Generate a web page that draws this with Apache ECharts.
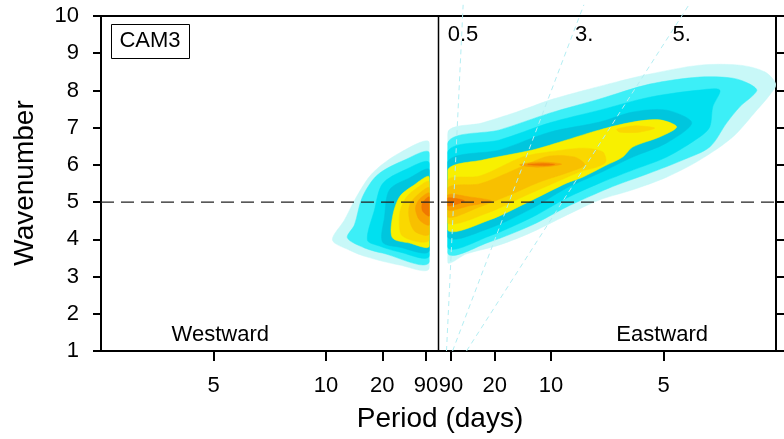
<!DOCTYPE html>
<html><head><meta charset="utf-8">
<script src="https://cdn.jsdelivr.net/npm/echarts@6/dist/echarts.min.js"></script>
<style>html,body{margin:0;padding:0;background:#fff}#c{width:784px;height:439px}</style>
</head><body><div id="c"></div>
<script>
// ---- axis definitions ----
const periodTicks = [5, 10, 20, 90];          // period (days) tick labels, westward and eastward
const freqMin = -0.3, freqMax = 0.3;           // frequency (cycles/day)
const waveMin = 1, waveMax = 10;               // zonal wavenumber
const refWavenumber = 5;                       // dashed reference line
const zeroFreqLine = [[0, 1], [0, 10]];
const gapHalfWidth = 0.008;                    // masked band around zero frequency

// ---- contour level colours (outer -> inner) ----
const levelColors = ['#c8f8f8', '#3ceff7', '#00e0f0', '#00c6de', '#f8f000', '#fad800', '#f8c000', '#f8a000', '#f07800'];

// ---- westward blob: [frequency, wavenumber] ----
const westL1 = [[-0.0080,6.59],[-0.0347,6.32],[-0.0587,5.78],[-0.0730,5.14],[-0.0836,4.52],[-0.0943,3.98],[-0.0792,3.71],[-0.0641,3.53],[-0.0347,3.31],[-0.0080,3.23]];
const westL2 = [[-0.0080,6.32],[-0.0302,6.13],[-0.0543,5.73],[-0.0676,5.14],[-0.0747,4.39],[-0.0810,4.04],[-0.0658,3.77],[-0.0498,3.63],[-0.0080,3.39]];
const westL3 = [[-0.0080,6.05],[-0.0302,5.86],[-0.0498,5.49],[-0.0569,4.79],[-0.0632,3.98],[-0.0525,3.82],[-0.0347,3.66],[-0.0080,3.55]];
const westL4 = [[-0.0080,5.86],[-0.0258,5.65],[-0.0436,5.33],[-0.0480,4.60],[-0.0498,3.93],[-0.0347,3.79],[-0.0080,3.69]];
const westL5 = [[-0.0080,5.67],[-0.0231,5.43],[-0.0347,5.14],[-0.0409,4.60],[-0.0409,4.04],[-0.0258,3.90],[-0.0080,3.82]];
const westL6 = [[-0.0080,5.54],[-0.0214,5.33],[-0.0302,5.06],[-0.0347,4.65],[-0.0320,4.09],[-0.0080,3.98]];
const westL7 = [[-0.0080,5.38],[-0.0187,5.19],[-0.0258,4.92],[-0.0258,4.52],[-0.0205,4.20],[-0.0080,4.14]];
const westL8 = [[-0.0080,5.24],[-0.0169,5.08],[-0.0205,4.84],[-0.0169,4.52],[-0.0080,4.39]];
const westL9 = [[-0.0080,5.14],[-0.0142,4.98],[-0.0142,4.76],[-0.0080,4.63]];

// ---- eastward blob ----
const eastL1 = [[0.0080,6.86],[0.0391,7.13],[0.0694,7.42],[0.0988,7.74],[0.1281,7.99],[0.1584,8.23],[0.1877,8.44],[0.2322,8.68],[0.2678,8.68],[0.2900,8.50],[0.2998,8.17],
  [0.2945,7.88],[0.2829,7.47],[0.2616,6.75],[0.2322,6.13],[0.2028,5.67],[0.1726,5.33],[0.1432,5.06],[0.1139,4.65],[0.0836,4.20],[0.0543,3.85],[0.0249,3.61],[0.0080,3.39]];
const eastL2 = [[0.0080,6.59],[0.0543,6.94],[0.0988,7.39],[0.1432,7.77],[0.1877,8.17],[0.2322,8.36],[0.2616,8.33],[0.2767,8.17],[0.2829,7.99],
  [0.2678,7.56],[0.2562,7.13],[0.2411,6.48],[0.2171,6.13],[0.1877,5.78],[0.1584,5.46],[0.1432,5.27],[0.1139,4.87],[0.0836,4.39],[0.0454,3.93],[0.0080,3.63]];
const eastL3 = [[0.0080,6.35],[0.0543,6.67],[0.0988,7.13],[0.1432,7.47],[0.1877,7.82],[0.2322,8.01],[0.2500,8.01],
  [0.2438,7.56],[0.2411,7.02],[0.2322,6.75],[0.2028,6.21],[0.1726,5.86],[0.1432,5.51],[0.1139,5.11],[0.0836,4.60],[0.0454,4.09],[0.0080,3.79]];
const eastL4 = [[0.0080,6.08],[0.0543,6.40],[0.0988,6.88],[0.1432,7.15],[0.1726,7.42],[0.2028,7.47],[0.2251,7.13],
  [0.2028,6.59],[0.1726,6.21],[0.1432,5.78],[0.1139,5.38],[0.0836,4.84],[0.0454,4.30],[0.0080,4.06]];
const eastL5 = [[0.0080,5.86],[0.0391,6.13],[0.0836,6.40],[0.1139,6.67],[0.1432,6.94],[0.1726,7.15],[0.1966,7.21],[0.2117,7.02],
  [0.1966,6.75],[0.1726,6.48],[0.1637,6.21],[0.1477,5.97],[0.1281,5.67],[0.1139,5.51],[0.0836,5.06],[0.0454,4.52],[0.0080,4.25]];
const eastL6 = [[0.0080,5.59],[0.0365,5.70],[0.0747,6.21],[0.0988,6.35],[0.1281,6.45],[0.1459,6.35],[0.1486,6.08],[0.1388,5.92],[0.1281,5.84],
  [0.0988,5.46],[0.0747,5.14],[0.0454,4.73],[0.0080,4.44]];
const eastL6b = [[0.1584,6.96],[0.1744,7.05],[0.1922,6.99],[0.1788,6.88],[0.1610,6.88]];
const eastL7 = [[0.0080,5.38],[0.0365,5.49],[0.0632,5.81],[0.0810,6.05],[0.0988,6.24],[0.1210,6.21],[0.1299,6.00],[0.1165,5.81],
  [0.0899,5.54],[0.0632,5.19],[0.0365,4.87],[0.0080,4.60]];
const eastL8 = [[0.0080,5.19],[0.0276,5.14],[0.0472,5.03],[0.0276,4.90],[0.0080,4.79]];
const eastL8b = [[0.0721,6.00],[0.0899,6.08],[0.1094,6.02],[0.0899,5.94]];
const eastL9 = [[0.0080,5.11],[0.0231,5.03],[0.0080,4.90]];
const eastL9b = [[0.0792,6.01],[0.0943,6.04],[0.1032,6.01],[0.0943,5.98]];

// ---- dispersion (phase-speed) lines and labels ----
const speedLabels = ['0.5', '3.', '5.'];
const speedLines = [
  [[0.0071, 1], [0.0219, 10.3]],
  [[0.0125, 1], [0.1292, 10.3]],
  [[0.0249, 1], [0.2226, 10.3]]
];
const speedLabelPos = [[0.0218, 9.49], [0.1294, 9.49], [0.2162, 9.49]];
const dirLabels = ['Westward', 'Eastward'];
const dirLabelPos = [[-0.1940, 1.43], [0.1988, 1.43]];

// ---- build ----
const contours = [
  [0, westL1], [0, eastL1], [1, westL2], [1, eastL2], [2, westL3], [2, eastL3],
  [3, westL4], [3, eastL4], [4, westL5], [4, eastL5], [5, westL6], [5, eastL6], [5, eastL6b],
  [6, westL7], [6, eastL7], [7, westL8], [7, eastL8], [7, eastL8b], [8, westL9], [8, eastL9], [8, eastL9b]
].map(([level, pts]) => ({ level, pts }));

const tickFreqs = [...periodTicks.map(p => -1 / p), ...periodTicks.map(p => 1 / p)].sort((a, b) => a - b);
const FONT = '"Liberation Sans", Arial, Helvetica, sans-serif';
const texts = [
  ...speedLabels.map((t, i) => ({ t, p: speedLabelPos[i] })),
  ...dirLabels.map((t, i) => ({ t, p: dirLabelPos[i] }))
];

const chart = echarts.init(document.getElementById('c'), null, { renderer: 'canvas' });
const axisLine = { show: true, onZero: false, lineStyle: { color: '#000', width: 2 } };
chart.setOption({
  animation: false,
  backgroundColor: '#fff',
  textStyle: { fontFamily: FONT },
  grid: { left: 101, right: 8, top: 16, bottom: 88, containLabel: false },
  xAxis: [
    { type: 'value', min: freqMin, max: freqMax, position: 'bottom',
      axisLine, splitLine: { show: false },
      axisTick: { show: true, customValues: tickFreqs, length: 10, lineStyle: { color: '#000', width: 2 } },
      axisLabel: { show: true, customValues: tickFreqs, margin: 24, fontSize: 22, color: '#000', fontFamily: FONT,
        formatter: v => String(Math.round(1 / Math.abs(v))) } },
    { type: 'value', min: freqMin, max: freqMax, position: 'top',
      axisLine, axisTick: { show: false }, axisLabel: { show: false }, splitLine: { show: false } }
  ],
  yAxis: [
    { type: 'value', min: waveMin, max: waveMax, interval: 1, position: 'left',
      axisLine, splitLine: { show: false },
      axisTick: { show: true, length: 8, lineStyle: { color: '#000', width: 2 } },
      axisLabel: { margin: 22, fontSize: 22, color: '#000', fontFamily: FONT } },
    { type: 'value', min: waveMin, max: waveMax, interval: 1, position: 'right',
      axisLine, splitLine: { show: false },
      axisTick: { show: true, length: 8, lineStyle: { color: '#000', width: 2 } },
      axisLabel: { show: false } }
  ],
  series: [
    { type: 'custom', z: 1, silent: true, xAxisIndex: 0, yAxisIndex: 0,
      data: contours.map((c, i) => [c.pts[0][0], c.pts[0][1], i]),
      encode: { x: 0, y: 1 },
      renderItem: (params, api) => {
        const c = contours[params.dataIndex];
        const west = c.pts[0][0] < 0;
        const tl = api.coord([west ? freqMin : gapHalfWidth, waveMax]);
        const br = api.coord([west ? -gapHalfWidth : freqMax, waveMin]);
        return { type: 'polygon',
          shape: { points: c.pts.map(p => api.coord(p)), smooth: 0.3 },
          clipPath: { type: 'rect', shape: { x: tl[0], y: tl[1], width: br[0] - tl[0], height: br[1] - tl[1] } },
          style: { fill: levelColors[c.level], stroke: levelColors[c.level], lineWidth: 0.5 } };
      } },
    ...speedLines.map(l => ({ type: 'line', z: 3, silent: true, clip: false, data: l, symbol: 'none',
      lineStyle: { color: '#b4eef3', width: 1, type: [5, 4] } })),
    { type: 'line', z: 4, silent: true, data: zeroFreqLine, symbol: 'none',
      lineStyle: { color: '#000', width: 1.5 } },
    { type: 'line', z: 4, silent: true, data: [[freqMin, refWavenumber], [freqMax, refWavenumber]], symbol: 'none',
      lineStyle: { color: '#222', width: 1.3, type: [13, 7] } },
    { type: 'custom', z: 5, silent: true, clip: false,
      data: texts.map((t, i) => [t.p[0], t.p[1], i]), encode: { x: 0, y: 1 },
      renderItem: (params, api) => {
        const t = texts[params.dataIndex];
        const pt = api.coord(t.p);
        return { type: 'text', x: pt[0], y: pt[1],
          style: { text: t.t, font: '22px ' + FONT, fill: '#000', align: 'center', verticalAlign: 'middle' } };
      } }
  ],
  graphic: [
    { type: 'rect', left: 111, top: 24, shape: { width: 78, height: 34 }, style: { fill: '#fff', stroke: '#000', lineWidth: 1 }, z: 10 },
    { type: 'text', x: 150, y: 41, style: { text: 'CAM3', font: '22px ' + FONT, fill: '#000', align: 'center', verticalAlign: 'middle' }, z: 11 },
    { type: 'text', x: 440, y: 419, style: { text: 'Period (days)', font: '28px ' + FONT, fill: '#000', align: 'center', verticalAlign: 'middle' } },
    { type: 'text', x: 25, y: 183, rotation: Math.PI / 2, style: { text: 'Wavenumber', font: '28px ' + FONT, fill: '#000', align: 'center', verticalAlign: 'middle' } }
  ]
});
</script></body></html>
